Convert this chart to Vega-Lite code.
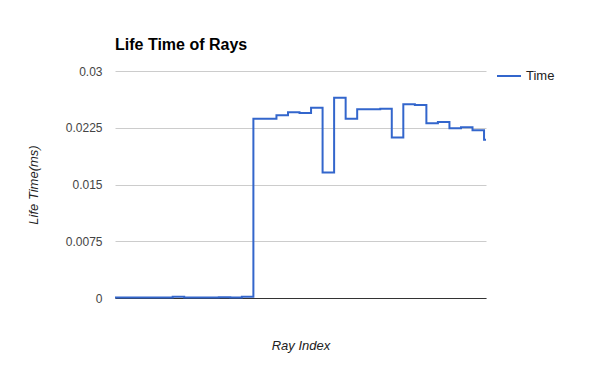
{
  "$schema": "https://vega.github.io/schema/vega-lite/v6.json",
  "width": 371,
  "height": 227,
  "autosize": {"type": "none"},
  "padding": {"left": 115, "top": 71, "right": 114, "bottom": 73},
  "background": "white",
  "config": {
    "font": "Liberation Sans",
    "view": {"stroke": null}
  },
  "title": {
    "text": "Life Time of Rays",
    "anchor": "start",
    "frame": "group",
    "fontSize": 16,
    "fontWeight": "bold",
    "color": "#000000",
    "baseline": "alphabetic",
    "offset": 20,
    "dy": 23,
    "font": "Liberation Sans"
  },
  "data": {
    "values": [
      {"idx": 0, "time": 0.00005, "series": "Time"},
      {"idx": 1, "time": 0.00005, "series": "Time"},
      {"idx": 2, "time": 0.00005, "series": "Time"},
      {"idx": 3, "time": 0.00005, "series": "Time"},
      {"idx": 4, "time": 0.00005, "series": "Time"},
      {"idx": 5, "time": 0.00015, "series": "Time"},
      {"idx": 6, "time": 0.00005, "series": "Time"},
      {"idx": 7, "time": 0.00005, "series": "Time"},
      {"idx": 8, "time": 0.00005, "series": "Time"},
      {"idx": 9, "time": 0.0001, "series": "Time"},
      {"idx": 10, "time": 0.00005, "series": "Time"},
      {"idx": 11, "time": 0.00015, "series": "Time"},
      {"idx": 12, "time": 0.0237, "series": "Time"},
      {"idx": 13, "time": 0.0237, "series": "Time"},
      {"idx": 14, "time": 0.02414, "series": "Time"},
      {"idx": 15, "time": 0.02454, "series": "Time"},
      {"idx": 16, "time": 0.02445, "series": "Time"},
      {"idx": 17, "time": 0.02515, "series": "Time"},
      {"idx": 18, "time": 0.0166, "series": "Time"},
      {"idx": 19, "time": 0.02647, "series": "Time"},
      {"idx": 20, "time": 0.0237, "series": "Time"},
      {"idx": 21, "time": 0.02493, "series": "Time"},
      {"idx": 22, "time": 0.02493, "series": "Time"},
      {"idx": 23, "time": 0.02502, "series": "Time"},
      {"idx": 24, "time": 0.0212, "series": "Time"},
      {"idx": 25, "time": 0.0256, "series": "Time"},
      {"idx": 26, "time": 0.0255, "series": "Time"},
      {"idx": 27, "time": 0.02308, "series": "Time"},
      {"idx": 28, "time": 0.02326, "series": "Time"},
      {"idx": 29, "time": 0.02242, "series": "Time"},
      {"idx": 30, "time": 0.02256, "series": "Time"},
      {"idx": 31, "time": 0.02216, "series": "Time"},
      {"idx": 32, "time": 0.0209, "series": "Time"},
      {"idx": 32.17, "time": 0.0209, "series": "Time"}
    ]
  },
  "mark": {"type": "line", "interpolate": "step-after", "strokeWidth": 2, "clip": false},
  "encoding": {
    "x": {
      "field": "idx",
      "type": "quantitative",
      "scale": {"domain": [0, 32.17], "nice": false, "zero": false},
      "axis": {
        "title": "Ray Index",
        "titleFont": "Liberation Sans",
        "titleFontSize": 13,
        "titleFontStyle": "italic",
        "titleFontWeight": "normal",
        "titleColor": "#222222",
        "titleX": 185.5,
        "titleY": 51,
        "titleBaseline": "alphabetic",
        "titleAlign": "center",
        "labels": false,
        "ticks": false,
        "grid": false,
        "domain": true,
        "domainColor": "#333333",
        "domainWidth": 1,
        "zindex": 0
      }
    },
    "y": {
      "field": "time",
      "type": "quantitative",
      "scale": {"domain": [0, 0.03], "nice": false},
      "axis": {
        "title": "Life Time(ms)",
        "titleFont": "Liberation Sans",
        "titleFontSize": 13,
        "titleFontStyle": "italic",
        "titleFontWeight": "normal",
        "titleColor": "#222222",
        "titleAngle": -90,
        "titleX": -82,
        "titleY": 113.5,
        "titleAlign": "center",
        "titleBaseline": "middle",
        "values": [0, 0.0075, 0.015, 0.0225, 0.03],
        "labelExpr": "datum.value == 0 ? '0' : format(datum.value, '')",
        "labelFont": "Liberation Sans",
        "labelFontSize": 12,
        "labelColor": "#444444",
        "labelPadding": 13,
        "ticks": false,
        "domain": false,
        "grid": true,
        "gridColor": "#cccccc",
        "gridWidth": 1
      }
    },
    "color": {
      "field": "series",
      "type": "nominal",
      "scale": {"range": ["#3366cc"]},
      "legend": {
        "title": null,
        "orient": "none",
        "legendX": 381,
        "legendY": -8,
        "symbolType": "stroke",
        "symbolSize": 576,
        "symbolStrokeWidth": 2,
        "labelFont": "Liberation Sans",
        "labelFontSize": 13,
        "labelColor": "#222222",
        "labelOffset": 4
      }
    }
  }
}
